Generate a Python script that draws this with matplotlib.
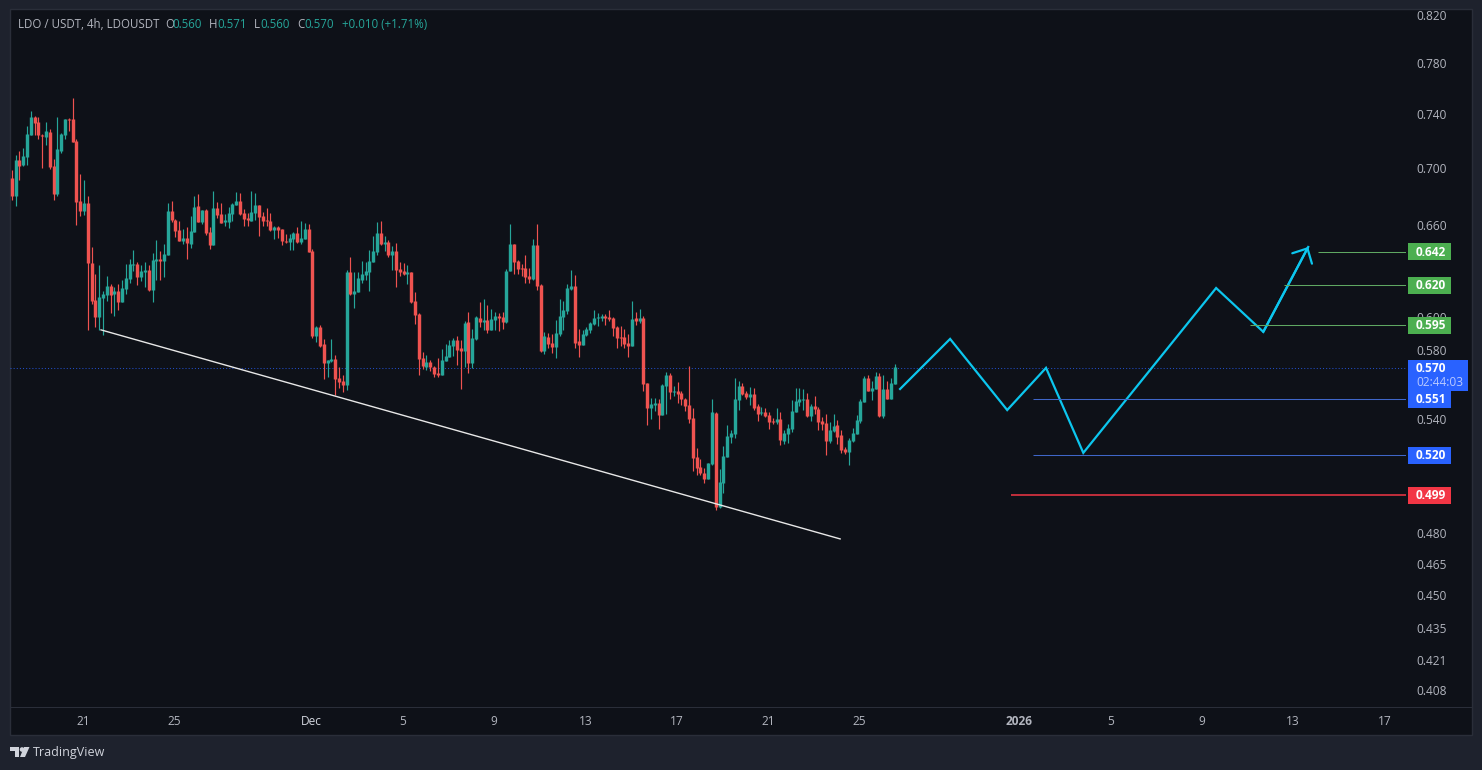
import numpy as np
import matplotlib
matplotlib.use("Agg")
import matplotlib.pyplot as plt
from matplotlib.patches import Rectangle, Polygon, Circle
from matplotlib.lines import Line2D
from matplotlib.transforms import IdentityTransform
from matplotlib.ticker import NullLocator, FixedLocator, FixedFormatter

plt.rcParams['font.family'] = ['Open Sans', 'DejaVu Sans']

opens = [
 .6929,.6797,.7059,.7023,.7081,.7244,.7380,.7341,.7242,.7230,
 .7267,.7016,.6815,.7125,.7244,.7364,.7364,.7200,.6766,.6697,
 .6752,.6346,.6108,.6002,.6121,.6140,.6197,.6146,.6165,.6096,
 .6177,.6242,.6333,.6339,.6255,.6288,.6301,.6171,.6359,.6372,
 .6359,.6398,.6697,.6634,.6566,.6492,.6513,.6472,.6553,.6731,
 .6620,.6704,.6553,.6465,.6717,.6676,.6620,.6620,.6676,.6738,
 .6766,.6683,.6648,.6627,.6683,.6738,.6662,.6634,.6627,.6566,
 .6586,.6573,.6492,.6486,.6506,.6546,.6486,.6506,.6573,.6425,
 .5885,.5940,.5836,.5723,.5735,.5747,.5634,.5617,.5594,.6287,
 .6146,.6158,.6235,.6267,.6287,.6353,.6419,.6546,.6472,.6485,
 .6399,.6425,.6307,.6293,.6274,.6287,.6101,.6020,.5753,.5699,
 .5729,.5699,.5664,.5652,.5735,.5759,.5824,.5860,.5812,.5794,
 .5971,.5723,.5867,.5995,.5971,.5983,.5922,.5983,.6007,.6001,
 .5971,.6293,.6472,.6359,.6313,.6313,.6260,.6241,.6465,.6203,
 .5794,.5879,.5842,.5818,.5897,.6001,.6038,.6178,.6197,.5852,
 .5830,.5891,.5922,.5958,.5995,.5995,.6007,.6001,.5995,.5940,
 .5879,.5879,.5842,.5824,.5995,.5977,.5995,.5605,.5462,.5480,
 .5491,.5422,.5588,.5652,.5554,.5559,.5548,.5514,.5480,.5406,
 .5192,.5139,.5108,.5076,.5155,.5434,.4931,.5055,.5192,.5301,
 .5317,.5508,.5588,.5548,.5525,.5542,.5474,.5434,.5440,.5422,
 .5389,.5384,.5400,.5279,.5317,.5345,.5440,.5497,.5508,.5514,
 .5417,.5474,.5457,.5389,.5378,.5279,.5334,.5367,.5312,.5235,
 .5218,.5279,.5317,.5389,.5497,.5634,.5559,.5571,.5646,.5417,
 .5571,.5514,.5599,
]
highs = [
 .6987,.7095,.7125,.7147,.7311,.7426,.7388,.7380,.7252,.7341,
 .7289,.7066,.7380,.7259,.7364,.7372,.7526,.7214,.6958,.6915,
 .6801,.6452,.6275,.6333,.6165,.6262,.6210,.6190,.6210,.6236,
 .6339,.6372,.6432,.6352,.6333,.6352,.6333,.6411,.6499,.6425,
 .6472,.6752,.6766,.6641,.6627,.6573,.6586,.6662,.6801,.6815,
 .6704,.6710,.6586,.6836,.6759,.6752,.6676,.6724,.6752,.6829,
 .6822,.6710,.6683,.6836,.6822,.6738,.6690,.6717,.6683,.6593,
 .6593,.6573,.6539,.6539,.6553,.6586,.6627,.6613,.6607,.6439,
 .5946,.5952,.5864,.5741,.5867,.5771,.5699,.5650,.6300,.6386,
 .6287,.6287,.6359,.6353,.6432,.6526,.6621,.6628,.6526,.6499,
 .6458,.6478,.6353,.6346,.6333,.6287,.6158,.6026,.5789,.5771,
 .5741,.5705,.5753,.5806,.5836,.5860,.5873,.5885,.5860,.5977,
 .6032,.5928,.6007,.6095,.6114,.6076,.6050,.6032,.6026,.6032,
 .6307,.6608,.6472,.6366,.6340,.6399,.6313,.6506,.6608,.6209,
 .5909,.5903,.5897,.5983,.6114,.6101,.6209,.6300,.6267,.5928,
 .5922,.5940,.5971,.6044,.6026,.6020,.6020,.6044,.6001,.5946,
 .5946,.5928,.5897,.6101,.6032,.6050,.6007,.5605,.5517,.5517,
 .5514,.5599,.5670,.5664,.5588,.5611,.5559,.5517,.5705,.5462,
 .5240,.5181,.5134,.5160,.5514,.5440,.5129,.5251,.5367,.5339,
 .5634,.5617,.5605,.5559,.5582,.5576,.5485,.5468,.5462,.5440,
 .5406,.5462,.5440,.5339,.5373,.5508,.5576,.5576,.5571,.5548,
 .5485,.5531,.5468,.5411,.5428,.5384,.5428,.5395,.5339,.5246,
 .5295,.5350,.5422,.5514,.5646,.5652,.5617,.5670,.5664,.5652,
 .5617,.5634,.5717,
]
lows = [
 .6773,.6727,.6915,.7016,.7023,.7244,.7244,.7214,.7001,.7170,
 .6996,.6773,.6801,.7110,.7214,.7274,.7192,.6600,.6662,.6669,
 .5922,.6083,.5940,.5922,.5892,.6102,.6027,.6008,.6046,.6096,
 .6146,.6216,.6294,.6203,.6229,.6190,.6165,.6096,.6236,.6236,
 .6255,.6398,.6620,.6519,.6492,.6472,.6372,.6445,.6553,.6620,
 .6607,.6532,.6438,.6465,.6648,.6613,.6593,.6580,.6627,.6738,
 .6669,.6593,.6593,.6627,.6634,.6526,.6593,.6593,.6559,.6506,
 .6513,.6465,.6479,.6432,.6432,.6479,.6472,.6506,.6418,.5873,
 .5848,.5818,.5629,.5640,.5729,.5536,.5577,.5554,.5565,.6139,
 .6057,.6158,.6216,.6235,.6165,.6353,.6399,.6465,.6425,.6386,
 .6300,.6190,.6260,.6267,.6209,.6089,.5958,.5652,.5688,.5682,
 .5676,.5640,.5640,.5652,.5735,.5759,.5765,.5711,.5571,.5699,
 .5664,.5693,.5860,.5940,.5922,.5903,.5922,.5922,.5915,.5928,
 .5964,.6293,.6274,.6274,.6260,.6216,.6216,.6235,.6171,.5789,
 .5777,.5812,.5783,.5753,.5885,.5922,.6020,.6171,.5812,.5759,
 .5830,.5885,.5903,.5952,.5946,.5977,.5952,.5977,.5885,.5812,
 .5824,.5812,.5759,.5824,.5952,.5964,.5559,.5367,.5400,.5445,
 .5345,.5422,.5428,.5514,.5531,.5491,.5480,.5445,.5378,.5118,
 .5097,.5097,.5055,.5076,.5150,.4915,.4926,.5003,.5192,.5268,
 .5295,.5451,.5537,.5514,.5480,.5451,.5389,.5422,.5411,.5345,
 .5373,.5373,.5257,.5262,.5268,.5328,.5440,.5474,.5451,.5411,
 .5389,.5428,.5339,.5339,.5203,.5268,.5328,.5262,.5213,.5208,
 .5150,.5273,.5317,.5378,.5497,.5559,.5508,.5571,.5411,.5406,
 .5514,.5514,.5599,
]
closes = [
 .6797,.7059,.7016,.7088,.7252,.7380,.7333,.7244,.7232,.7274,
 .7008,.6815,.7140,.7252,.7364,.7356,.7192,.6759,.6697,.6752,
 .6346,.6102,.6002,.6127,.6146,.6197,.6140,.6165,.6096,.6184,
 .6249,.6339,.6339,.6255,.6294,.6301,.6171,.6365,.6372,.6359,
 .6405,.6697,.6634,.6559,.6492,.6513,.6479,.6559,.6724,.6620,
 .6704,.6546,.6465,.6717,.6669,.6613,.6634,.6683,.6745,.6766,
 .6676,.6641,.6634,.6690,.6738,.6655,.6627,.6625,.6566,.6586,
 .6566,.6492,.6486,.6513,.6546,.6486,.6513,.6573,.6418,.5885,
 .5940,.5824,.5723,.5741,.5747,.5629,.5611,.5594,.6287,.6146,
 .6165,.6248,.6274,.6293,.6359,.6425,.6546,.6472,.6485,.6399,
 .6425,.6300,.6287,.6274,.6287,.6095,.6013,.5747,.5705,.5729,
 .5699,.5658,.5652,.5741,.5765,.5830,.5860,.5800,.5794,.5964,
 .5723,.5873,.6001,.5971,.5983,.5922,.5989,.6007,.5995,.5971,
 .6293,.6472,.6353,.6307,.6307,.6254,.6241,.6465,.6197,.5794,
 .5885,.5836,.5818,.5903,.6007,.6044,.6184,.6197,.5842,.5830,
 .5897,.5928,.5964,.5995,.6001,.6007,.5995,.5989,.5934,.5873,
 .5873,.5836,.5824,.5989,.5977,.5995,.5600,.5462,.5485,.5491,
 .5422,.5594,.5652,.5554,.5559,.5542,.5514,.5474,.5400,.5187,
 .5134,.5108,.5076,.5160,.5440,.4931,.5060,.5197,.5306,.5323,
 .5514,.5588,.5542,.5525,.5542,.5462,.5428,.5440,.5417,.5384,
 .5384,.5400,.5284,.5323,.5350,.5445,.5502,.5514,.5514,.5417,
 .5474,.5457,.5384,.5373,.5279,.5339,.5361,.5301,.5229,.5218,
 .5284,.5323,.5395,.5502,.5634,.5559,.5576,.5646,.5417,.5571,
 .5514,.5605,.5699,
]

# price scale and time scale
price_ticks = [0.820, 0.780, 0.740, 0.700, 0.660, 0.600, 0.580, 0.540, 0.480, 0.465, 0.450, 0.435, 0.421, 0.408]
time_ticks = [18.75, 42.75, 78.75, 102.75, 126.75, 150.75, 174.75, 198.75, 222.75, 264.75, 288.75, 312.75, 336.75, 360.75]
time_labels = ['21', '25', 'Dec', '5', '9', '13', '17', '21', '25', '2026', '5', '9', '13', '17']

# drawings, in candle index and price
trend_x = [23.47, 217.7]
trend_p = [0.5921, 0.4770]
path_x = [233.45, 246.6, 261.6, 271.8, 281.6, 316.5, 328.9, 340.7]
path_p = [0.5570, 0.5866, 0.5450, 0.5693, 0.5214, 0.6183, 0.5909, 0.6451]
level_prices = [0.642, 0.620, 0.595, 0.551, 0.520, 0.499]
level_starts = [343.3, 334.4, 325.4, 268.4, 268.4, 262.6]
level_labels = ['0.642', '0.620', '0.595', '0.551', '0.520', '0.499']
level_colors = ['#4caf50', '#4caf50', '#4caf50', '#2962ff', '#2962ff', '#f23645']
line_colors = ['#5fa862', '#5fa862', '#5fa862', '#3f66c8', '#3f66c8', '#f23645']
line_widths = [0.75, 0.75, 0.75, 0.75, 0.75, 1.1]
last_price = 0.5695

W, H = 1482, 770
BG = '#1e222d'
PANE = '#0e1118'
UP = '#26a69a'
DOWN = '#ef5350'
TXT = '#b2b5be'
CYAN = '#0cc6ee'

fig = plt.figure(figsize=(W / 100, H / 100), dpi=100, facecolor=BG)
ident = IdentityTransform()
fig.add_artist(Rectangle((10, H - 735), 1462, 726, transform=ident,
                         facecolor=PANE, edgecolor='#2a2e39', linewidth=1, zorder=-5))
fig.add_artist(Line2D([10, 1472], [H - 707, H - 707], transform=ident, color='#2a2e39', linewidth=0.75, zorder=-4))
ax = fig.add_axes([10 / W, (H - 707) / H, 1396 / W, 698 / H], facecolor='none')
ax.set_yscale('log')
ax.set_xlim(-0.45, 366.4)
ax.set_ylim(0.4009, 0.8251)

# candles
idx = np.arange(len(opens))
o, h, l, c = map(np.array, (opens, highs, lows, closes))
colors = np.where(c >= o, UP, DOWN)
ax.vlines(idx, l, h, colors=colors, linewidth=0.85, zorder=3)
ax.vlines(idx, np.minimum(o, c), np.maximum(o, c), colors=colors, linewidth=2.45, capstyle='butt', zorder=4)

# last price line
ax.axhline(last_price, color='#2962ff', alpha=0.75, linewidth=0.75, linestyle=(0, (1, 2)), zorder=2)

# trend line and projected path
ax.plot(trend_x, trend_p, color='#e8e8e8', linewidth=1.0, zorder=5)
ax.plot(path_x, path_p, color=CYAN, linewidth=1.6, zorder=5, solid_joinstyle='miter')
ax.annotate('', xy=(path_x[-1], path_p[-1]), xytext=(path_x[-2], path_p[-2]),
            arrowprops=dict(arrowstyle='->,head_length=0.82,head_width=0.8', color=CYAN, lw=1.6,
                            shrinkA=0, shrinkB=0, mutation_scale=10), zorder=5)

# horizontal levels
for p, s, col, w in zip(level_prices, level_starts, line_colors, line_widths):
    lc = ax.hlines(p, s, 366.4, colors=col, linewidth=w, zorder=5)
    lc.set_snap(True)

# axes
ax.yaxis.tick_right()
ax.yaxis.set_major_locator(FixedLocator(price_ticks))
ax.yaxis.set_major_formatter(FixedFormatter([f'{v:.3f}' for v in price_ticks]))
ax.yaxis.set_minor_locator(NullLocator())
ax.xaxis.set_major_locator(FixedLocator(time_ticks))
ax.xaxis.set_major_formatter(FixedFormatter(time_labels))
ax.xaxis.set_minor_locator(NullLocator())
ax.tick_params(axis='y', length=0, pad=7.2, labelsize=8.6, labelcolor=TXT)
ax.tick_params(axis='x', length=0, pad=5.8, labelsize=8.6, labelcolor=TXT)
for lab in ax.get_yticklabels():
    lab.set_va('center_baseline')
for lab in ax.get_xticklabels():
    if lab.get_text() == '2026':
        lab.set_fontweight('bold')
    if lab.get_text() == 'Dec':
        lab.set_color('#d1d4dc')
for spine in ax.spines.values():
    spine.set_visible(False)

# price labels on the scale, in pixels
def ypix(price):
    return ax.transData.transform((0, price))[1]

for p, lab, col in zip(level_prices, level_labels, level_colors):
    yc = ypix(p)
    fig.add_artist(Rectangle((1408, yc - 8.5), 43, 17, transform=ident, facecolor=col, linewidth=0, zorder=6))
    fig.text(1416, yc - 0.5, lab, transform=ident, color='white', fontsize=8.6, fontweight='bold',
             va='center', ha='left', zorder=7)

yc = ypix(last_price)
fig.add_artist(Rectangle((1408, yc - 23), 60, 31, transform=ident, facecolor='#2962ff', linewidth=0, zorder=6))
fig.text(1416, yc - 0.5, '0.570', transform=ident, color='white', fontsize=8.6, fontweight='bold',
         va='center', ha='left', zorder=7)
fig.text(1416, yc - 15, '02:44:03', transform=ident, color='#b8c9ff', fontsize=8.6,
         va='center', ha='left', zorder=7)

# header
header = [(18, 'LDO / USDT, 4h, LDOUSDT', TXT), (165, 'O', TXT), (172, '0.560', UP), (209, 'H', TXT),
          (217, '0.571', UP), (254, 'L', TXT), (260, '0.560', UP), (297, 'C', TXT), (304, '0.570', UP),
          (342, '+0.010 (+1.71%)', UP)]
for x, s, col in header:
    fig.text(x, H - 25, s, transform=ident, color=col, fontsize=8.3, va='center', ha='left', zorder=7)

# brand
LOGO = '#d1d4dc'
fig.add_artist(Polygon([(10, H - 747), (19, H - 747), (19, H - 757), (14.5, H - 757), (14.5, H - 751), (10, H - 751)],
                       closed=True, transform=ident, facecolor=LOGO, linewidth=0, zorder=7))
fig.add_artist(Circle((22, H - 749.5), 2.3, transform=ident, facecolor=LOGO, linewidth=0, zorder=7))
fig.add_artist(Polygon([(24, H - 747), (29.5, H - 747), (25, H - 757), (20, H - 757)],
                       closed=True, transform=ident, facecolor=LOGO, linewidth=0, zorder=7))
fig.text(33, H - 752.5, 'TradingView', transform=ident, color=LOGO, fontsize=9.0, va='center', ha='left', zorder=7)

fig.savefig('out.png', dpi=100, facecolor=BG)
